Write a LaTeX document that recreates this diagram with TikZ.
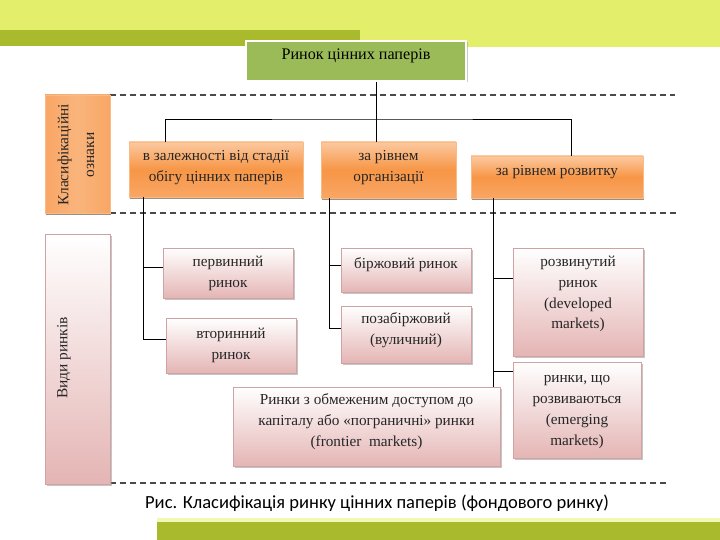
\documentclass[tikz,border=0pt]{standalone}
\usepackage{fontspec}
\setmainfont{Liberation Serif}
\newfontfamily\capfont{Carlito}
\usetikzlibrary{shadows,calc}
\definecolor{ybright}{HTML}{E3EF6B}
\definecolor{oliveband}{HTML}{A9BA2C}
\definecolor{titlegreen}{HTML}{9BBB59}
\definecolor{orlight}{HTML}{FBC9A0}
\definecolor{ormid}{HTML}{F79646}
\definecolor{orbot}{HTML}{F9A665}
\definecolor{pinkbot}{HTML}{E4B5B4}
\definecolor{pinkedge}{HTML}{CFA3A3}
\definecolor{txt}{HTML}{262626}
\definecolor{dashgray}{HTML}{4A4A4A}
\begin{document}
\begin{tikzpicture}[x=1bp,y=-1bp,
  boxtext/.style={font=\fontsize{15.3}{21}\selectfont, text=txt, align=center},
  orbox/.style={rectangle, inner sep=2bp, top color=orlight, bottom color=orbot, middle color=ormid,
     draw=orlight!70!ormid, line width=0.4bp,
     drop shadow={shadow xshift=1bp, shadow yshift=-2bp, fill=black!60!brown, opacity=0.55}},
  pkbox/.style={rectangle, inner sep=2bp, top color=white, bottom color=pinkbot,
     draw=pinkedge, line width=0.5bp,
     drop shadow={shadow xshift=1.5bp, shadow yshift=-2bp, fill=black!45, opacity=0.5}},
  dashline/.style={draw=dashgray, line width=1.6bp, dash pattern=on 6bp off 4bp},
  conn/.style={draw=black, line width=0.9bp}]
\useasboundingbox (0,0) rectangle (720,540);
\fill[white] (0,0) rectangle (720,540);
% top bands
\fill[ybright] (0,0) rectangle (720,30);
\fill[ybright] (360,30) rectangle (720,47);
\fill[oliveband] (0,30) rectangle (360,40);
\fill[oliveband] (0,40) rectangle (246,46);
% bottom band
\fill[ybright!50] (157,518) rectangle (720,522);
\fill[oliveband] (157,522) rectangle (720,540);
% dashed guide lines
\draw[dashline] (110,95) -- (675,95);
\draw[dashline] (110,213) -- (680,213);
\draw[dashline] (110,483) -- (670,483);
% title
\node[rectangle, minimum width=220bp, minimum height=40bp, fill=titlegreen, draw=white, line width=2.5bp,
  drop shadow={shadow xshift=1.5bp, shadow yshift=-1.5bp, fill=black!40, opacity=0.5}] (title) at (356,61) {};
\node[font=\fontsize{16.2}{18}\selectfont, text=black] (titlet) at (356,56) {Ринок цінних паперів};
% side boxes
\node[rectangle, minimum width=65bp, minimum height=118bp, left color=orbot, right color=orbot, middle color=orlight!60!ormid,
  draw=orlight!70!ormid, line width=0.4bp,
  drop shadow={shadow xshift=1bp, shadow yshift=-2bp, fill=black!60!brown, opacity=0.55}] (kl) at (77.5,154) {};
\node[boxtext, font=\fontsize{15.5}{26}\selectfont, rotate=90] (klt) at (76,155) {Класифікаційні\\ознаки};
\node[pkbox, minimum width=65bp, minimum height=250bp] (vr) at (77.5,359) {};
\node[boxtext, font=\fontsize{15.5}{20}\selectfont, rotate=90, anchor=center] (vrt) at (64,358) {Види ринків};
% category boxes
\node[orbox, minimum width=174bp, minimum height=55bp] (c1) at (216,169.5) {};
\node[boxtext] (c1t) at (216,168) {в залежності від стадії\\обігу цінних паперів};
\node[orbox, minimum width=135bp, minimum height=56bp] (c2) at (388.5,170) {};
\node[boxtext] (c2t) at (388.5,168) {за рівнем\\організації};
\node[orbox, minimum width=172bp, minimum height=42bp] (c3) at (557,177) {};
\node[boxtext] (c3t) at (557,172) {за рівнем розвитку};
% sub boxes
\node[pkbox, minimum width=130bp, minimum height=50bp] (p1) at (228,273) {};
\node[boxtext] (p1t) at (228,273) {первинний\\ринок};
\node[pkbox, minimum width=130bp, minimum height=55bp] (p2) at (231,345.5) {};
\node[boxtext] (p2t) at (231,345.5) {вторинний\\ринок};
\node[pkbox, minimum width=130bp, minimum height=44bp] (b1) at (406,270) {};
\node[boxtext] (b1t) at (406,265) {біржовий ринок};
\node[pkbox, minimum width=130bp, minimum height=57bp] (b2) at (406,334.5) {};
\node[boxtext] (b2t) at (406,330) {позабіржовий\\(вуличний)};
\node[pkbox, minimum width=130bp, minimum height=108bp] (d1) at (578,302) {};
\node[boxtext] (d1t) at (578,294) {розвинутий\\ринок\\(developed\\markets)};
\node[pkbox, minimum width=128bp, minimum height=96bp] (d2) at (577,410) {};
\node[boxtext] (d2t) at (577,412) {ринки, що\\розвиваються\\(emerging\\markets)};
\node[pkbox, minimum width=267bp, minimum height=79bp] (fr) at (366.5,426.5) {};
\node[boxtext] (frt) at (366.5,422) {Ринки з обмеженим доступом до\\капіталу або «пограничні» ринки\\(frontier\ \ markets)};
% connectors: top tree
\coordinate (hub) at (376,119);
\draw[conn] (title.south -| hub) -- (hub |- c2.north);
\draw[conn] ([xshift=-51bp]c1.north) |- (hub) -| ([xshift=14bp]c3.north);
% left branch
\coordinate (v1) at ([xshift=-73bp]c1.south);
\path ([yshift=6bp]p1.west) coordinate (p1c);
\draw[conn] (v1) |- ([yshift=6.5bp]p2.west);
\draw[conn] (v1 |- p1c) -- (p1c);
% middle branch
\coordinate (v2) at ([xshift=-59.5bp]c2.south);
\path ([yshift=5bp]b1.west) coordinate (b1c);
\draw[conn] (v2) |- ([yshift=6.5bp]b2.west);
\draw[conn] (v2 |- b1c) -- (b1c);
% right branch
\coordinate (v3) at ([xshift=-64bp]c3.south);
\path ([yshift=24bp]d1.west) coordinate (d1c);
\path ([yshift=39bp]d2.west) coordinate (d2c);
\draw[conn] (v3) -- (v3 |- fr.north);
\draw[conn] (v3 |- d1c) -- (d1c);
\draw[conn] (v3 |- d2c) -- (d2c);
% caption
\node[font=\capfont\fontsize{18.6}{22}\selectfont, text=black] (cap) at (377,503) {Рис. Класифікація ринку цінних паперів (фондового ринку)};
\end{tikzpicture}
\end{document}
